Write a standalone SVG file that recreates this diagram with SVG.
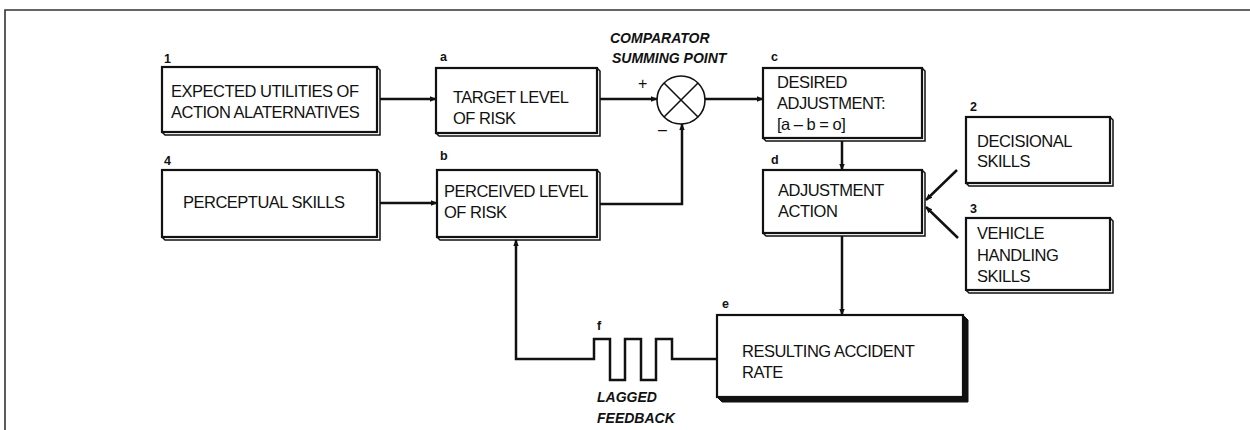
<svg xmlns="http://www.w3.org/2000/svg" width="1250" height="430" viewBox="0 0 1250 430">
<defs>
<marker id="ah" viewBox="0 0 10 10" refX="9" refY="5" markerWidth="7" markerHeight="7" markerUnits="userSpaceOnUse" orient="auto">
<path d="M0,1 L10,5 L0,9 z" fill="#111"/>
</marker>
</defs>
<style>
.frame{fill:none;stroke:#333;stroke-width:1.6}
.front{fill:#fff;stroke:#111;stroke-width:2.2}
.back{fill:#fff;stroke:#111;stroke-width:1.5;stroke-linejoin:miter}
.backe{fill:#111;stroke:#111;stroke-width:1}
.t{font-family:"Liberation Sans",Arial,Helvetica,sans-serif;font-size:16.5px;fill:#111;letter-spacing:-0.5px}
.n{font-family:"Liberation Sans",Arial,Helvetica,sans-serif;font-size:12.5px;font-weight:bold;fill:#111}
.bi{font-family:"Liberation Sans",Arial,Helvetica,sans-serif;font-size:14px;font-weight:bold;font-style:italic;fill:#111}
.c{fill:none;stroke:#111;stroke-width:2.5}
.ca{fill:none;stroke:#111;stroke-width:2.5;marker-end:url(#ah)}
.sym{font-family:"Liberation Sans",Arial,sans-serif;font-size:16px;fill:#111}
</style>
<path class="frame" d="M5,430 L5,10 L1250,10"/>

<g id="node-1">
<path class="back" d="M377,67 L380,70 L380,135 L165,135 L162,132"/>
<rect class="front" x="162" y="67" width="215" height="65"/>
<text class="n" x="164" y="63">1</text>
<text class="t" x="171" y="97">EXPECTED UTILITIES OF</text>
<text class="t" x="171" y="118">ACTION ALATERNATIVES</text>
</g>

<g id="node-a">
<path class="back" d="M597,68 L600,71 L600,136 L439,136 L436,133"/>
<rect class="front" x="436" y="68" width="161" height="65"/>
<text class="n" x="440" y="61">a</text>
<text class="t" x="453" y="103">TARGET LEVEL</text>
<text class="t" x="453" y="124">OF RISK</text>
</g>

<g id="node-4">
<path class="back" d="M377,170 L380,173 L380,240 L165,240 L162,237"/>
<rect class="front" x="162" y="170" width="215" height="67"/>
<text class="n" x="164" y="165">4</text>
<text class="t" x="183" y="208">PERCEPTUAL SKILLS</text>
</g>

<g id="node-b">
<path class="back" d="M597,170 L600,173 L600,240 L440,240 L437,237"/>
<rect class="front" x="437" y="170" width="160" height="67"/>
<text class="n" x="440" y="160">b</text>
<text class="t" x="444" y="197">PERCEIVED LEVEL</text>
<text class="t" x="444" y="218">OF RISK</text>
</g>

<g id="comparator">
<circle cx="681" cy="100" r="24" fill="#fff" stroke="#111" stroke-width="1.6"/>
<line x1="664" y1="83" x2="698" y2="117" stroke="#111" stroke-width="1.6"/>
<line x1="698" y1="83" x2="664" y2="117" stroke="#111" stroke-width="1.6"/>
<text class="bi" x="610" y="43">COMPARATOR</text>
<text class="bi" x="612" y="63">SUMMING POINT</text>
<text class="sym" x="638" y="89">+</text>
<text class="sym" x="658" y="135">–</text>
</g>

<g id="node-c">
<path class="back" d="M922,68 L925,71 L925,141 L766,141 L763,138"/>
<rect class="front" x="763" y="68" width="159" height="70"/>
<text class="n" x="771" y="61">c</text>
<text class="t" x="777" y="88">DESIRED</text>
<text class="t" x="777" y="109">ADJUSTMENT:</text>
<text class="t" x="777" y="130">[a – b = o]</text>
</g>

<g id="node-d">
<path class="back" d="M922,170 L925,173 L925,236 L766,236 L763,233"/>
<rect class="front" x="763" y="170" width="159" height="63"/>
<text class="n" x="771" y="164">d</text>
<text class="t" x="778" y="196">ADJUSTMENT</text>
<text class="t" x="778" y="217">ACTION</text>
</g>

<g id="node-2">
<path class="back" d="M1110,117 L1113,120 L1113,186 L969,186 L966,183"/>
<rect class="front" x="966" y="117" width="144" height="66"/>
<text class="n" x="970" y="111">2</text>
<text class="t" x="977" y="147">DECISIONAL</text>
<text class="t" x="977" y="167">SKILLS</text>
</g>

<g id="node-3">
<path class="back" d="M1110,218 L1113,221 L1113,293 L969,293 L966,290"/>
<rect class="front" x="966" y="218" width="144" height="72"/>
<text class="n" x="970" y="213">3</text>
<text class="t" x="977" y="239">VEHICLE</text>
<text class="t" x="977" y="261">HANDLING</text>
<text class="t" x="977" y="282">SKILLS</text>
</g>

<g id="node-e">
<path class="backe" d="M963,315 L968,320 L968,402 L722,402 L717,397 L963,397 z"/>
<rect class="front" x="717" y="315" width="246" height="82"/>
<text class="n" x="722" y="308">e</text>
<text class="t" x="742" y="357">RESULTING ACCIDENT</text>
<text class="t" x="742" y="378">RATE</text>
</g>

<g id="node-f">
<text class="n" x="597" y="330">f</text>
<text class="bi" x="597" y="402">LAGGED</text>
<text class="bi" x="597" y="423">FEEDBACK</text>
</g>

<g id="connectors">
<line class="ca" x1="380" y1="99" x2="436" y2="99"/>
<line class="ca" x1="380" y1="203" x2="437" y2="203"/>
<line class="ca" x1="600" y1="99" x2="657" y2="99"/>
<polyline class="ca" points="600,204 682,204 682,124"/>
<line class="ca" x1="705" y1="99" x2="763" y2="99"/>
<line class="ca" x1="842" y1="141" x2="842" y2="170"/>
<line class="ca" x1="842" y1="236" x2="842" y2="315"/>
<line class="ca" x1="957" y1="170" x2="926" y2="200"/>
<line class="ca" x1="958" y1="238" x2="926" y2="207"/>
<polyline class="ca" points="717,359 672,359 672,339 656,339 656,380 641,380 641,339 625,339 625,380 610,380 610,339 594,339 594,359 516,359 516,240"/>
</g>
</svg>
